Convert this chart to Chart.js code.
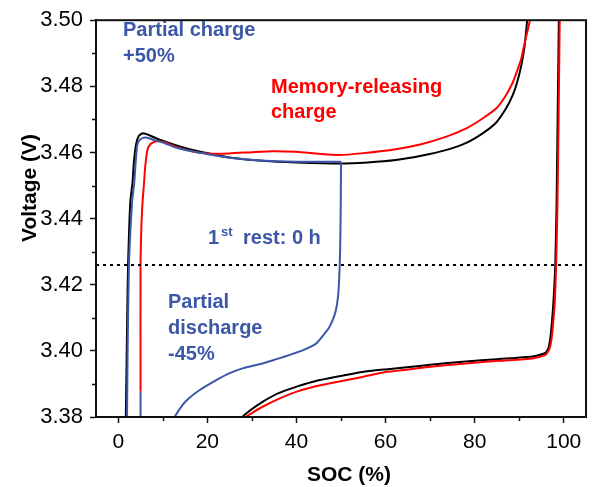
<!DOCTYPE html>
<html>
<head>
<meta charset="utf-8">
<script src="https://cdn.jsdelivr.net/npm/chart.js@4.4.1/dist/chart.umd.min.js"></script>
<style>
    html, body { margin: 0; padding: 0; background: #fff; }
    #wrap { width: 593px; height: 487px; position: relative; }
</style>
</head>
<body>
<div id="wrap"><canvas id="chart"></canvas></div>
<script>
// --- data (SOC in %, voltage in V) ---

// full charge (black, upper branch)
const blackChargeSoc = [1.6, 1.8, 2.0, 2.2, 2.7, 3.2, 3.5, 4.0, 4.6, 5.5, 7.0, 9.0, 12.9, 16.0, 20.4, 24.9, 33.0, 40.0, 49.6, 56.0, 62.3, 68.0, 73.5, 78.0, 81.7, 84.8, 87.0, 88.5, 89.5, 90.5, 91.2, 91.8, 92.2];
const blackChargeV   = [3.370, 3.390, 3.410, 3.426, 3.445, 3.451, 3.457, 3.4625, 3.4650, 3.4658, 3.4652, 3.4640, 3.4622, 3.4610, 3.4597, 3.4585, 3.4574, 3.4570, 3.4567, 3.4570, 3.4577, 3.4590, 3.4607, 3.4628, 3.4657, 3.4690, 3.4732, 3.4772, 3.4810, 3.4865, 3.4920, 3.5000, 3.5050];

// full discharge (black, lower branch)
const blackDischargeSoc = [99.1, 98.9, 98.4, 98.1, 97.7, 97.3, 97.0, 96.6, 96.1, 95.6, 93.0, 85.0, 78.0, 70.0, 65.3, 60.0, 54.8, 47.3, 43.5, 39.9, 36.0, 32.4, 29.8, 27.5, 26.8];
const blackDischargeV   = [3.510, 3.500, 3.445, 3.426, 3.415, 3.408, 3.404, 3.401, 3.3997, 3.3992, 3.3983, 3.3975, 3.3968, 3.3958, 3.3951, 3.3944, 3.3936, 3.3917, 3.3906, 3.3891, 3.3872, 3.3846, 3.3822, 3.3796, 3.3770];

// partial charge +50% (blue)
const blueChargeSoc = [1.9, 2.1, 2.4, 3.1, 3.6, 3.9, 4.3, 5.0, 6.2, 8.0, 10.0, 12.9, 16.0, 20.4, 25.0, 33.0, 40.0, 45.0, 50.0];
const blueChargeV   = [3.370, 3.400, 3.426, 3.445, 3.451, 3.457, 3.4625, 3.4640, 3.4645, 3.4638, 3.4630, 3.4615, 3.4605, 3.4594, 3.4584, 3.4575, 3.4572, 3.4572, 3.4572];

// partial discharge -45% (blue)
const blueDischargeSoc = [50.0, 49.95, 49.8, 49.6, 49.3, 48.8, 48.1, 47.3, 46.3, 44.4, 41.5, 39.0, 35.5, 32.4, 27.9, 24.9, 21.9, 18.2, 15.8, 14.4, 12.6, 12.0];
const blueDischargeV   = [3.4572, 3.445, 3.430, 3.422, 3.416, 3.412, 3.4092, 3.4070, 3.4052, 3.4022, 3.4002, 3.3990, 3.3975, 3.3962, 3.3947, 3.3932, 3.3911, 3.3881, 3.3856, 3.3836, 3.3799, 3.3780];

// end of partial discharge before the memory-releasing charge (blue)
const blueTailSoc = [5.0, 5.0];
const blueTailV   = [3.370, 3.3876];

// memory-releasing charge (red, upper branch)
const redChargeSoc = [5.0, 5.0, 5.2, 5.45, 5.8, 6.0, 6.5, 7.2, 8.5, 10.5, 13.0, 16.7, 20.0, 24.9, 30.0, 34.6, 40.0, 45.0, 49.6, 55.0, 62.3, 68.0, 73.5, 78.0, 81.7, 85.0, 87.0, 88.5, 89.5, 90.5, 91.3, 92.0, 92.4, 92.8];
const redChargeV   = [3.3876, 3.426, 3.438, 3.445, 3.451, 3.455, 3.4605, 3.4625, 3.4634, 3.4630, 3.4617, 3.4603, 3.4597, 3.4597, 3.4601, 3.4604, 3.4602, 3.4596, 3.4592, 3.4598, 3.4610, 3.4625, 3.4647, 3.4672, 3.4702, 3.4735, 3.4772, 3.4810, 3.4845, 3.4885, 3.4935, 3.4975, 3.5000, 3.5030];

// following discharge (red, lower branch)
const redDischargeSoc = [99.3, 99.1, 98.85, 98.6, 98.3, 98.0, 97.6, 97.3, 96.9, 96.4, 95.8, 93.0, 85.5, 78.0, 70.0, 65.3, 60.0, 54.8, 47.3, 43.5, 39.9, 36.0, 32.4, 30.0, 28.3, 27.6];
const redDischargeV   = [3.510, 3.500, 3.470, 3.445, 3.426, 3.415, 3.408, 3.404, 3.401, 3.3996, 3.3987, 3.3977, 3.3970, 3.3962, 3.3952, 3.3944, 3.3936, 3.3921, 3.3901, 3.3890, 3.3876, 3.3855, 3.3831, 3.3812, 3.3796, 3.3770];

// horizontal dotted reference level
const refLevelV = 3.426;

// axes
const socMin = -5, socMax = 105, socStep = 20;
const voltMin = 3.38, voltMax = 3.50, voltStep = 0.02;
const socMinorTicks = [10, 30, 50, 70, 90];
const voltMinorTicks = [3.39, 3.41, 3.43, 3.45, 3.47, 3.49];

const BLUE = '#3c57a8';
const RED = '#ff0000';
const FONT = '"Liberation Sans", Arial, Helvetica, sans-serif';

function pts(xs, ys) {
    return xs.map((x, i) => ({ x: x, y: ys[i] }));
}

function lineSet(xs, ys, color, order) {
    return {
        data: pts(xs, ys),
        borderColor: color,
        borderWidth: 2,
        pointRadius: 0,
        tension: 0.2,
        fill: false,
        order: order,
    };
}

// text annotations: [text, x, baseline y, color]
const notes = [
    ['Partial charge', 123, 36, BLUE],
    ['+50%', 123, 62, BLUE],
    ['Memory-releasing', 271, 93, RED],
    ['charge', 271, 118, RED],
    ['Partial', 168, 308, BLUE],
    ['discharge', 168, 334, BLUE],
    ['-45%', 168, 360, BLUE],
];

const decorPlugin = {
    id: 'decor',
    afterDraw(chart) {
        const ctx = chart.ctx;
        const a = chart.chartArea;
        const xs = chart.scales.x, ys = chart.scales.y;
        ctx.save();

        // frame
        ctx.strokeStyle = '#111';
        ctx.lineWidth = 2;
        ctx.strokeRect(a.left, a.top, a.right - a.left, a.bottom - a.top);

        // minor ticks
        ctx.lineWidth = 1.5;
        ctx.beginPath();
        socMinorTicks.forEach(v => {
            const px = Math.round(xs.getPixelForValue(v)) + 0.5;
            ctx.moveTo(px, a.bottom);
            ctx.lineTo(px, a.bottom + 4);
        });
        voltMinorTicks.forEach(v => {
            const py = Math.round(ys.getPixelForValue(v)) + 0.5;
            ctx.moveTo(a.left, py);
            ctx.lineTo(a.left - 4, py);
        });
        ctx.stroke();

        // annotations
        ctx.textAlign = 'left';
        ctx.textBaseline = 'alphabetic';
        ctx.font = 'bold 20px ' + FONT;
        notes.forEach(n => {
            ctx.fillStyle = n[3];
            ctx.fillText(n[0], n[1], n[2]);
        });
        ctx.fillStyle = BLUE;
        ctx.fillText('1', 208, 244);
        ctx.fillText('rest: 0 h', 243, 244);
        ctx.font = 'bold 13px ' + FONT;
        ctx.fillText('st', 221, 236);

        // axis titles
        ctx.fillStyle = '#000';
        ctx.font = 'bold 21px ' + FONT;
        ctx.textAlign = 'center';
        ctx.fillText('SOC (%)', 349, 481);
        ctx.translate(36, 188);
        ctx.rotate(-Math.PI / 2);
        ctx.fillText('Voltage (V)', 0, 0);

        ctx.restore();
    }
};

const datasets = [
    {
        data: pts([socMin, socMax], [refLevelV, refLevelV]),
        borderColor: '#000',
        borderWidth: 2,
        borderDash: [3, 4],
        pointRadius: 0,
        order: 0,
    },
    lineSet(blueChargeSoc, blueChargeV, BLUE, 1),
    lineSet(blueDischargeSoc, blueDischargeV, BLUE, 1),
    lineSet(blueTailSoc, blueTailV, BLUE, 1),
    lineSet(redChargeSoc, redChargeV, RED, 2),
    lineSet(redDischargeSoc, redDischargeV, RED, 2),
    lineSet(blackChargeSoc, blackChargeV, '#000', 3),
    lineSet(blackDischargeSoc, blackDischargeV, '#000', 3),
];

new Chart(document.getElementById('chart'), {
    type: 'line',
    data: { datasets: datasets },
    options: {
        responsive: true,
        maintainAspectRatio: false,
        animation: false,
        layout: { padding: { left: 0, right: 7, top: 17, bottom: 0 } },
        plugins: {
            legend: { display: false },
            tooltip: { enabled: false },
        },
        scales: {
            x: {
                type: 'linear',
                min: socMin,
                max: socMax,
                afterFit: (s) => { s.height = 70; },
                grid: { drawOnChartArea: false, tickLength: 6, tickWidth: 1.5, color: '#111' },
                border: { display: true, color: '#111', width: 2 },
                ticks: {
                    stepSize: socStep,
                    includeBounds: false,
                    padding: 7,
                    color: '#000',
                    font: { family: FONT, size: 21 },
                    maxRotation: 0,
                },
            },
            y: {
                type: 'linear',
                min: voltMin,
                max: voltMax,
                afterFit: (s) => { s.width = 96; },
                grid: { drawOnChartArea: false, tickLength: 6, tickWidth: 1.5, color: '#111' },
                border: { display: true, color: '#111', width: 2 },
                ticks: {
                    stepSize: voltStep,
                    includeBounds: false,
                    padding: 7,
                    color: '#000',
                    font: { family: FONT, size: 22 },
                    callback: (v) => Number(v).toFixed(2),
                },
            },
        },
    },
    plugins: [decorPlugin],
});
</script>
</body>
</html>
